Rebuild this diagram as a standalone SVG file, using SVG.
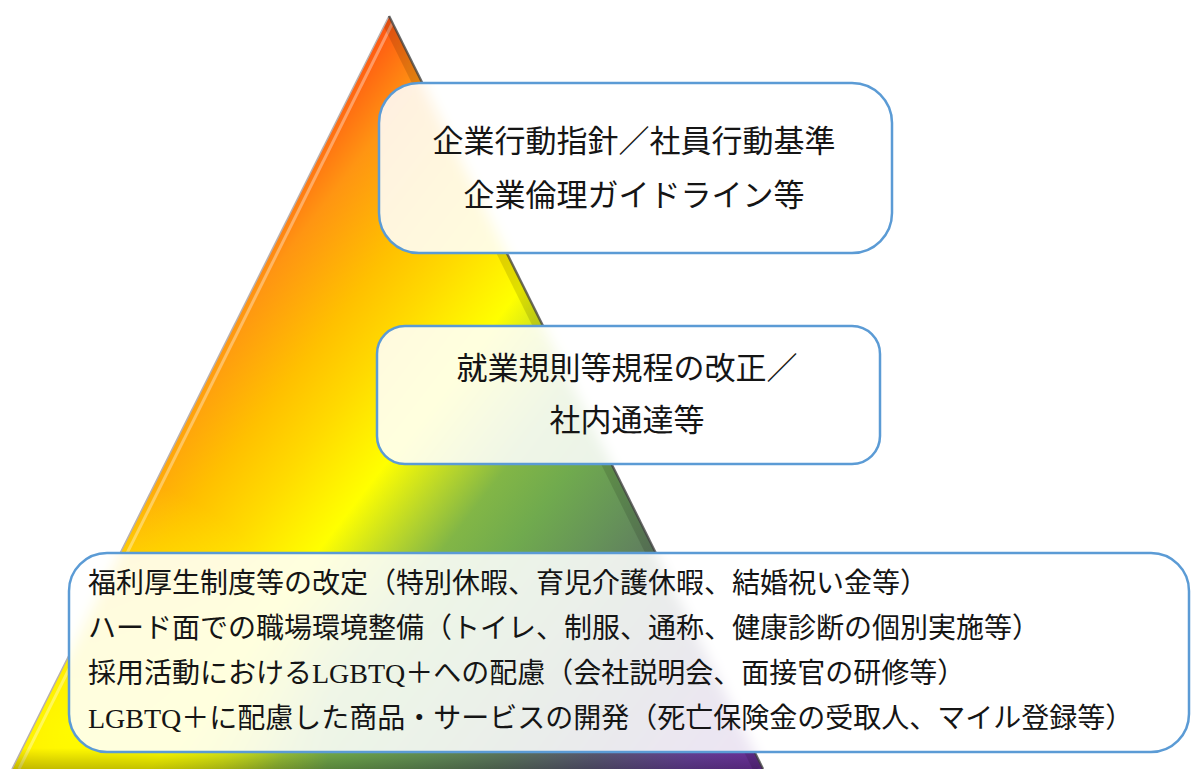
<svg xmlns="http://www.w3.org/2000/svg" width="1191" height="769" viewBox="0 0 1191 769">
<style>
.box{fill:#ffffff;fill-opacity:0.87;stroke:#5b9bd5;stroke-width:2.5}
.t1{font-family:"Noto Sans CJK JP","Noto Sans CJK SC",sans-serif;font-size:31px;fill:#151515;text-anchor:middle}
.t3{font-family:"Liberation Serif","Noto Sans CJK JP",serif;font-size:28px;fill:#151515}
</style>
<defs>
<linearGradient id="rainbow" gradientUnits="userSpaceOnUse" x1="389" y1="16" x2="985" y2="477">
<stop offset="0" stop-color="#ff5512"/>
<stop offset="0.085" stop-color="#ff9512"/>
<stop offset="0.19" stop-color="#ffc000"/>
<stop offset="0.265" stop-color="#ffda00"/>
<stop offset="0.36" stop-color="#ffff00"/>
<stop offset="0.44" stop-color="#b2d22e"/>
<stop offset="0.49" stop-color="#82b646"/>
<stop offset="0.56" stop-color="#70aa4e"/>
<stop offset="0.64" stop-color="#669458"/>
<stop offset="0.72" stop-color="#5f7a60"/>
<stop offset="0.82" stop-color="#5c5a76"/>
<stop offset="0.92" stop-color="#68409a"/>
<stop offset="1" stop-color="#7030a0"/>
</linearGradient>
<radialGradient id="yellowGlow" gradientUnits="userSpaceOnUse" cx="70" cy="730" r="260">
<stop offset="0" stop-color="#ffff00" stop-opacity="0.9"/>
<stop offset="0.6" stop-color="#ffff00" stop-opacity="0.45"/>
<stop offset="1" stop-color="#ffff00" stop-opacity="0"/>
</radialGradient>
<linearGradient id="bottomShade" x1="0" y1="0" x2="0" y2="1">
<stop offset="0" stop-color="#000" stop-opacity="0"/>
<stop offset="1" stop-color="#000" stop-opacity="0.3"/>
</linearGradient>
<g id="pyrShape">
<polygon points="389,16 9,775 766,775" fill="url(#rainbow)"/>
<polygon points="389,16 9,775 766,775" fill="url(#yellowGlow)"/>
</g>
<clipPath id="pyrClip"><polygon points="389,16 9,775 766,775"/></clipPath>
<clipPath id="clip1"><rect x="379" y="83" width="513" height="170" rx="40"/></clipPath>
<clipPath id="clip2"><rect x="377" y="326" width="503" height="138" rx="28"/></clipPath>
<clipPath id="clip3"><rect x="69" y="553" width="1120" height="199" rx="38"/></clipPath>
<filter id="soft" x="-10%" y="-10%" width="120%" height="120%"><feGaussianBlur stdDeviation="7"/></filter>
</defs>
<rect width="1191" height="769" fill="#ffffff"/>
<g id="pyramid">
<use href="#pyrShape"/>
<g clip-path="url(#pyrClip)">
<line x1="396" y1="16" x2="19" y2="769" stroke="#ffffff" stroke-opacity="0.35" stroke-width="3"/>
<line x1="383" y1="16" x2="757" y2="769" stroke="#000000" stroke-opacity="0.12" stroke-width="8"/>
<rect x="0" y="748" width="800" height="27" fill="url(#bottomShade)"/>
</g>
<line x1="389" y1="16" x2="12" y2="769" stroke="#b8b0b0" stroke-width="1.5"/>
<line x1="389" y1="16" x2="763" y2="769" stroke="#383838" stroke-opacity="0.75" stroke-width="2.5"/>
</g>
<g id="connectors"/>
<g id="node-1">
<g clip-path="url(#clip1)"><rect x="379" y="83" width="513" height="170" fill="#ffffff"/><use href="#pyrShape" filter="url(#soft)"/></g>
<rect class="box" x="379" y="83" width="513" height="170" rx="40"/>
<text class="t1" x="634" y="152">企業行動指針／社員行動基準</text>
<text class="t1" x="634" y="206">企業倫理ガイドライン等</text>
</g>
<g id="node-2">
<g clip-path="url(#clip2)"><rect x="377" y="326" width="503" height="138" fill="#ffffff"/><use href="#pyrShape" filter="url(#soft)"/></g>
<rect class="box" x="377" y="326" width="503" height="138" rx="28"/>
<text class="t1" x="627" y="379">就業規則等規程の改正／</text>
<text class="t1" x="627" y="431">社内通達等</text>
</g>
<g id="node-3">
<g clip-path="url(#clip3)"><rect x="69" y="553" width="1120" height="199" fill="#ffffff"/><use href="#pyrShape" filter="url(#soft)"/></g>
<rect class="box" x="69" y="553" width="1120" height="199" rx="38"/>
<text class="t3" x="88" y="593">福利厚生制度等の改定（特別休暇、育児介護休暇、結婚祝い金等）</text>
<text class="t3" x="88" y="638">ハード面での職場環境整備（トイレ、制服、通称、健康診断の個別実施等）</text>
<text class="t3" x="88" y="683">採用活動におけるLGBTQ＋への配慮（会社説明会、面接官の研修等）</text>
<text class="t3" x="88" y="728">LGBTQ＋に配慮した商品・サービスの開発（死亡保険金の受取人、マイル登録等）</text>
</g>
</svg>
